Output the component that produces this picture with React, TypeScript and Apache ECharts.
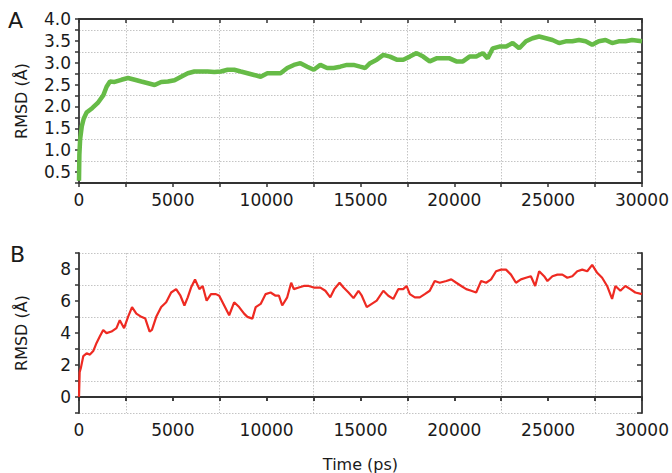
import React, { useEffect, useRef } from "react";
import * as echarts from "echarts";

// Panel A (green) : time (ps) and RMSD (Å)
const timesA = [0, 20, 60, 150, 250, 400, 700, 1000, 1300, 1470, 1650, 1900, 2260, 2610, 2970, 3320, 3680, 4030, 4380, 4740, 5090, 5440, 5800, 6150, 6500, 6860, 7210, 7560, 7920, 8270, 8620, 8980, 9330, 9680, 10040, 10390, 10740, 11100, 11450, 11800, 12160, 12510, 12860, 13220, 13570, 13920, 14280, 14630, 14980, 15250, 15510, 15870, 16220, 16570, 16930, 17280, 17630, 17990, 18340, 18690, 19050, 19400, 19750, 20110, 20460, 20810, 21170, 21520, 21780, 22050, 22400, 22760, 23110, 23460, 23820, 24170, 24520, 24880, 25230, 25580, 25940, 26290, 26640, 27000, 27350, 27700, 28060, 28410, 28760, 29120, 29470, 30000];
const rmsdA = [0.3, 0.9, 1.25, 1.55, 1.72, 1.86, 1.96, 2.08, 2.26, 2.45, 2.57, 2.56, 2.61, 2.65, 2.61, 2.57, 2.53, 2.49, 2.56, 2.57, 2.6, 2.68, 2.76, 2.8, 2.8, 2.8, 2.79, 2.8, 2.84, 2.84, 2.8, 2.76, 2.72, 2.68, 2.76, 2.76, 2.76, 2.88, 2.95, 2.99, 2.91, 2.84, 2.95, 2.88, 2.88, 2.91, 2.95, 2.95, 2.91, 2.88, 2.99, 3.07, 3.18, 3.14, 3.07, 3.07, 3.14, 3.22, 3.14, 3.03, 3.1, 3.1, 3.1, 3.03, 3.03, 3.14, 3.14, 3.22, 3.1, 3.33, 3.37, 3.37, 3.45, 3.33, 3.49, 3.56, 3.6, 3.56, 3.52, 3.45, 3.49, 3.49, 3.52, 3.49, 3.41, 3.49, 3.52, 3.45, 3.49, 3.49, 3.52, 3.49];

// Panel B (red)
const timesB = [0, 35, 106, 230, 406, 583, 759, 936, 1113, 1290, 1466, 1731, 1996, 2173, 2403, 2614, 2826, 3056, 3321, 3533, 3763, 3887, 4116, 4381, 4646, 4911, 5176, 5406, 5618, 5795, 5971, 6183, 6413, 6590, 6802, 7032, 7297, 7473, 7738, 8003, 8268, 8533, 8798, 8975, 9240, 9416, 9681, 9946, 10211, 10476, 10653, 10830, 11095, 11307, 11448, 11713, 11978, 12243, 12508, 12861, 13127, 13392, 13604, 13886, 14098, 14363, 14628, 14893, 15070, 15335, 15600, 15865, 16218, 16483, 16748, 17013, 17278, 17455, 17631, 17896, 18161, 18426, 18691, 18956, 19221, 19575, 19840, 20105, 20370, 20635, 20900, 21165, 21430, 21695, 21960, 22225, 22489, 22755, 23020, 23285, 23549, 23815, 24080, 24310, 24521, 24786, 24963, 25228, 25493, 25758, 26023, 26288, 26553, 26818, 27083, 27348, 27613, 27878, 28143, 28408, 28585, 28850, 29115, 29380, 29645, 30000];
const rmsdB = [0.0, 1.55, 1.85, 2.56, 2.73, 2.65, 2.87, 3.38, 3.79, 4.19, 3.99, 4.09, 4.3, 4.8, 4.3, 5.01, 5.62, 5.21, 5.01, 4.9, 4.09, 4.19, 5.01, 5.62, 5.92, 6.53, 6.74, 6.33, 5.72, 6.23, 6.84, 7.35, 6.74, 6.94, 6.02, 6.43, 6.43, 6.33, 5.72, 5.11, 5.92, 5.62, 5.21, 5.01, 4.9, 5.62, 5.82, 6.43, 6.53, 6.33, 6.33, 5.72, 6.23, 7.14, 6.74, 6.84, 6.94, 6.94, 6.84, 6.84, 6.64, 6.23, 6.74, 7.14, 6.84, 6.53, 6.18, 6.64, 6.33, 5.62, 5.82, 6.02, 6.64, 6.33, 6.13, 6.74, 6.74, 6.94, 6.43, 6.23, 6.23, 6.43, 6.64, 7.25, 7.14, 7.25, 7.35, 7.14, 6.94, 6.74, 6.64, 6.53, 7.25, 7.14, 7.35, 7.86, 7.96, 7.96, 7.65, 7.14, 7.35, 7.45, 7.55, 6.94, 7.86, 7.55, 7.25, 7.55, 7.65, 7.65, 7.45, 7.55, 7.86, 7.96, 7.86, 8.26, 7.76, 7.45, 6.94, 6.13, 6.94, 6.64, 6.94, 6.74, 6.53, 6.43];

const FONT = "DejaVu Sans";
const AXIS_COLOR = "#333333";
const GRID_COLOR = "#c4c4c4";

export default function App() {
  const ref = useRef<HTMLDivElement>(null);
  useEffect(() => {
    if (!ref.current) return;
    const chart = echarts.init(ref.current, null, { renderer: "svg" });
    const axisLine = { show: true, lineStyle: { color: AXIS_COLOR, width: 1.8 } };
    const tickStyle = { color: AXIS_COLOR, width: 1.5 };
    const dotted = { show: true, lineStyle: { color: GRID_COLOR, width: 1, type: [1.5, 1.5] as any } };
    const label = { color: "#1a1a1a", fontFamily: FONT, fontSize: 17 };
    const nameStyle = { color: "#1a1a1a", fontFamily: FONT, fontSize: 16 };

    const xAx = (gridIndex: number, bottom: boolean, name?: string) => ({
      type: "value",
      gridIndex,
      position: bottom ? "bottom" : "top",
      min: 0,
      max: 30000,
      interval: 5000,
      axisLine,
      axisTick: { show: true, inside: !bottom, length: 4, lineStyle: tickStyle },
      minorTick: { show: true, splitNumber: 2, length: 4, lineStyle: tickStyle },
      minorSplitLine: bottom ? dotted : { show: false },
      splitLine: { show: false },
      axisLabel: bottom ? { ...label, margin: 8, showMaxLabel: true, formatter: (v: number) => String(v) } : { show: false },
      name,
      nameLocation: "middle",
      nameGap: 43,
      nameTextStyle: nameStyle,
    });

    const yLeft = (gridIndex: number, min: number, max: number, interval: number, fmt: (v: number) => string, name: string) => ({
      type: "value",
      gridIndex,
      position: "left",
      min,
      max,
      interval,
      axisLine,
      axisTick: { show: true, inside: false, length: 4, lineStyle: tickStyle },
      splitLine: { show: false },
      axisLabel: { ...label, margin: 8, formatter: fmt },
      name,
      nameLocation: "middle",
      nameRotate: 90,
      nameGap: 50,
      nameTextStyle: nameStyle,
    });
    const yRight = (gridIndex: number, min: number, max: number, interval: number) => ({
      type: "value",
      gridIndex,
      position: "right",
      min,
      max,
      interval,
      axisLine,
      axisTick: { show: true, inside: true, length: 5, lineStyle: tickStyle },
      splitLine: { show: false },
      axisLabel: { show: false },
    });
    const yGrid = (gridIndex: number, min: number, max: number, interval: number) => ({
      type: "value",
      gridIndex,
      position: "left",
      min,
      max,
      interval,
      axisLine: { show: false },
      axisTick: { show: false },
      axisLabel: { show: false },
      splitLine: dotted,
    });

    chart.setOption({
      animation: false,
      backgroundColor: "#ffffff",
      grid: [
        { left: 79, right: 27, top: 19, height: 164 },
        { left: 79, right: 27, top: 253, height: 163 },
      ],
      xAxis: [xAx(0, true), xAx(0, false), xAx(1, true, "Time (ps)"), xAx(1, false)],
      yAxis: [
        yGrid(0, 0.25, 4, 0.5),
        yLeft(0, 0.25, 4, 0.25, (v: number) => (Math.abs(v * 2 - Math.round(v * 2)) < 1e-6 ? v.toFixed(1) : ""), "RMSD (Å)"),
        yRight(0, 0.25, 4, 0.25),
        yGrid(1, -1, 9, 2),
        yLeft(1, -1, 9, 1, (v: number) => (v >= 0 && v <= 8 && Math.round(v) % 2 === 0 ? String(Math.round(v)) : ""), "RMSD (Å)"),
        yRight(1, -1, 9, 1),
      ],
      graphic: [
        { type: "text", left: 8, top: 9, style: { text: "A", fontFamily: FONT, fontSize: 22, fill: "#1a1a1a" } },
        { type: "text", left: 10, top: 243, style: { text: "B", fontFamily: FONT, fontSize: 22, fill: "#1a1a1a" } },
      ],
      series: [
        {
          type: "line",
          xAxisIndex: 0,
          yAxisIndex: 1,
          showSymbol: false,
          data: timesA.map((t, i) => [t, rmsdA[i]]),
          lineStyle: { color: "#66bb47", width: 4.5 },
          itemStyle: { color: "#66bb47" },
          z: 5,
        },
        {
          type: "line",
          xAxisIndex: 2,
          yAxisIndex: 4,
          showSymbol: false,
          data: timesB.map((t, i) => [t, rmsdB[i]]),
          lineStyle: { color: "#ee2a22", width: 2.2 },
          itemStyle: { color: "#ee2a22" },
          z: 5,
        },
      ],
    });
    return () => chart.dispose();
  }, []);
  return <div ref={ref} style={{ position: "fixed", left: 0, top: 0, width: 672, height: 473, background: "#fff" }} />;
}
